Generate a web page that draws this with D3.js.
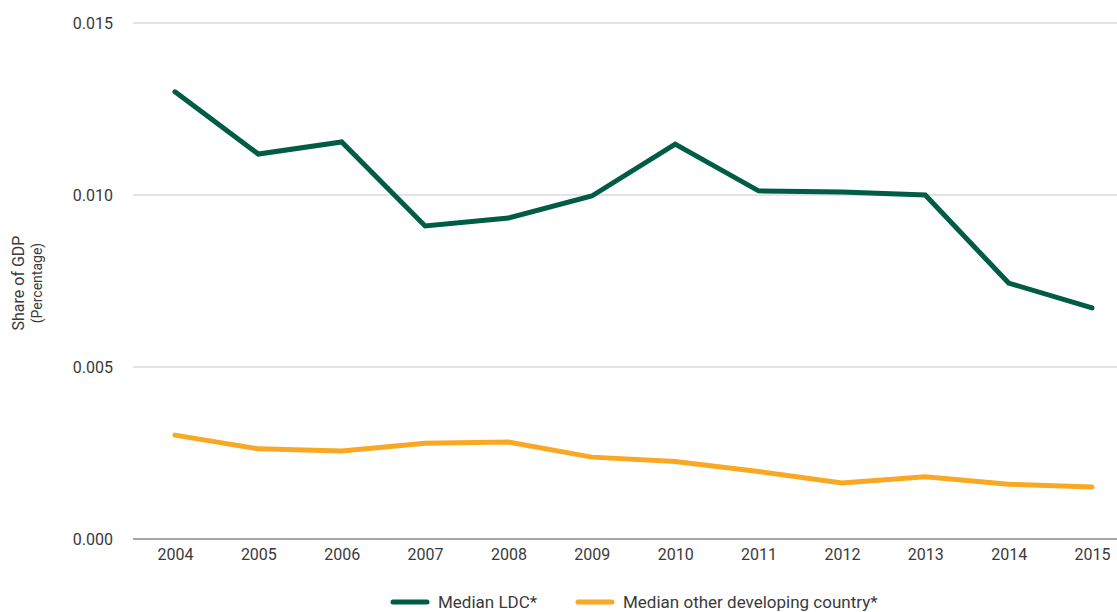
<!DOCTYPE html>
<html>
<head>
<meta charset="utf-8">
<script src="https://cdn.jsdelivr.net/npm/d3@7"></script>
<style>
  body { margin: 0; background: #fff; }
  text { font-family: "Liberation Sans Narrow", "Roboto", sans-serif; fill: #3a3a3a; }
</style>
</head>
<body>
<script>
//
// DATA
//
var years = ["2004","2005","2006","2007","2008","2009","2010","2011","2012","2013","2014","2015"];
var ldc = [0.0130, 0.01119, 0.01154, 0.00910, 0.00933, 0.00997, 0.01148, 0.01012, 0.01009, 0.01000, 0.00744, 0.00672];
var other = [0.00302, 0.00262, 0.00256, 0.00278, 0.00282, 0.00238, 0.00225, 0.00196, 0.00163, 0.00181, 0.00159, 0.00151];
var yTicks = [0, 0.005, 0.010, 0.015];
var seriesNames = ["Median LDC*", "Median other developing country*"];
var colors = ["#005c44", "#f9a823"];

//
// LAYOUT
//
var width = 1117, height = 612;
var svg = d3.select("body").append("svg")
    .attr("width", width)
    .attr("height", height);

var x = d3.scalePoint().domain(years).range([175, 1092]);
var y = d3.scaleLinear().domain([0, 0.015]).range([539, 23]);

// gridlines
svg.append("g")
   .selectAll("line")
   .data(yTicks.filter(function(d){ return d > 0; }))
   .enter().append("line")
   .attr("x1", 133).attr("x2", width)
   .attr("y1", function(d){ return y(d); })
   .attr("y2", function(d){ return y(d); })
   .attr("stroke", "#c8c8c8")
   .attr("stroke-width", 1);

// y axis labels
var yAxis = svg.append("g")
   .attr("transform", "translate(113,0)")
   .call(d3.axisLeft(y).tickValues(yTicks).tickFormat(d3.format(".3f")).tickSize(0).tickPadding(0));
yAxis.select(".domain").remove();
yAxis.selectAll("text").style("font-size", "16px").attr("fill", "#3a3a3a");

// x axis
var xAxis = svg.append("g")
   .attr("transform", "translate(0,539)")
   .call(d3.axisBottom(x).tickSize(0).tickPadding(10));
xAxis.select(".domain").remove();
xAxis.selectAll("text").style("font-size", "16px").attr("fill", "#3a3a3a");
svg.append("line")
   .attr("x1", 133).attr("x2", width)
   .attr("y1", y(0)).attr("y2", y(0))
   .attr("stroke", "#888").attr("stroke-width", 1.5);

// y title
var title = svg.append("text")
   .attr("transform", "translate(24,283) rotate(-90)")
   .attr("text-anchor", "middle");
title.append("tspan").attr("x", 0).attr("dy", 0).style("font-size", "16px").text("Share of GDP");
title.append("tspan").attr("x", 0).attr("dy", 18).style("font-size", "14px").text("(Percentage)");

// lines
var line = d3.line()
   .x(function(d, i){ return x(years[i]); })
   .y(function(d){ return y(d); });

[ldc, other].forEach(function(s, i){
  svg.append("path")
     .datum(s)
     .attr("d", line)
     .attr("fill", "none")
     .attr("stroke", colors[i])
     .attr("stroke-width", 5)
     .attr("stroke-linejoin", "miter")
     .attr("stroke-linecap", "round");
});

// legend
var legendX = [391, 576];
seriesNames.forEach(function(name, i){
  var g = svg.append("g").attr("transform", "translate(" + legendX[i] + ",602)");
  g.append("line")
   .attr("x1", 2).attr("x2", 36)
   .attr("stroke", colors[i]).attr("stroke-width", 5).attr("stroke-linecap", "round");
  g.append("text")
   .attr("x", 47).attr("dy", "0.35em")
   .style("font-size", "17px")
   .text(name);
});
</script>
</body>
</html>
